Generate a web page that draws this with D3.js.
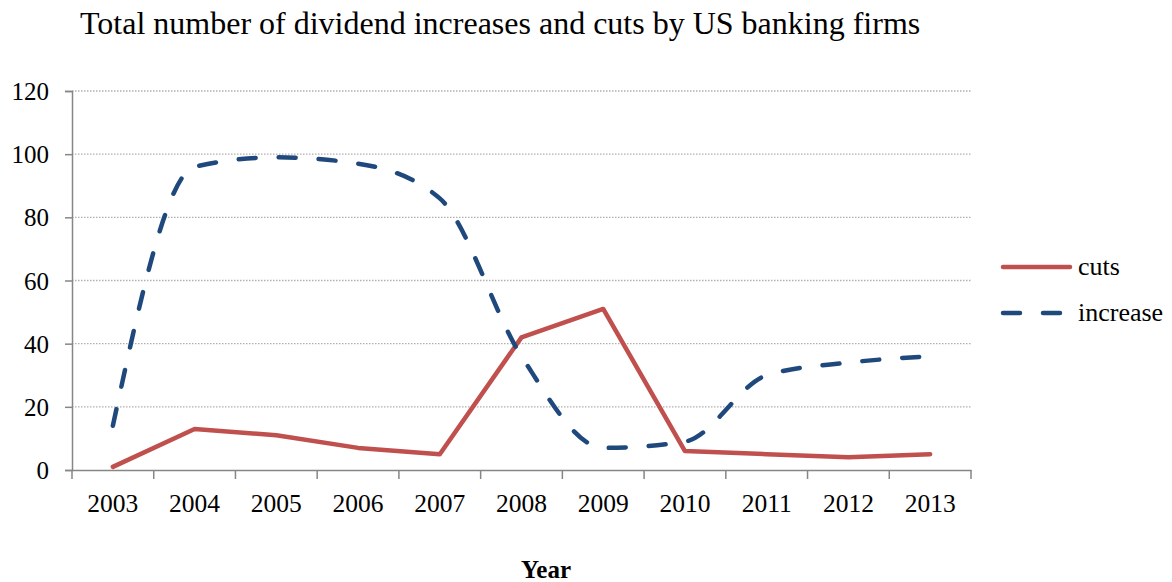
<!DOCTYPE html>
<html><head><meta charset="utf-8">
<script src="https://cdn.jsdelivr.net/npm/d3@7"></script>
<style>
body{margin:0;background:#fff;}
svg text{font-family:"Liberation Serif","Times New Roman","DejaVu Serif",serif !important;fill:#000;}
</style></head>
<body><svg id="chart" width="1172" height="582"></svg>
<script>
const years = ["2003","2004","2005","2006","2007","2008","2009","2010","2011","2012","2013"];
const cuts = [1,13,11,7,5,42,51,6,5,4,5];
const increase = [14,96,99,97,86,36,7,9,30,34,36];
const yTicks = [0,20,40,60,80,100,120];
const seriesNames = ["cuts","increase"];

const FONT = "'Liberation Serif','Times New Roman',serif";
const svg = d3.select("#chart");
const pLeft = 72, pRight = 971, pTop = 91, pBottom = 470;
const x = d3.scaleBand().domain(years).range([pLeft, pRight]).paddingInner(0).paddingOuter(0);
const y = d3.scaleLinear().domain([0,120]).range([pBottom, pTop]);
const cx = d => x(d) + x.bandwidth()/2;

// gridlines
svg.append("g").selectAll("line").data(yTicks.filter(v=>v>0)).join("line")
  .attr("x1", pLeft).attr("x2", pRight).attr("y1", d=>y(d)).attr("y2", d=>y(d))
  .attr("stroke","#b0b0b0").attr("stroke-width",1.3).attr("stroke-dasharray","1.5,1.5");

// y axis
const ya = svg.append("g").attr("transform",`translate(${pLeft},0)`)
  .call(d3.axisLeft(y).tickValues(yTicks).tickSize(7).tickPadding(16));
ya.attr("font-family", FONT);
ya.select(".domain").attr("stroke","#868686").attr("stroke-width",1.5);
ya.selectAll(".tick line").attr("stroke","#868686").attr("stroke-width",1.5);
ya.selectAll("text").attr("font-size",25).style("font-family",FONT).attr("fill","#000").attr("dy","0.34em");

// x axis
const xa = svg.append("g").attr("transform",`translate(0,${pBottom})`)
  .call(d3.axisBottom(x).tickSize(0).tickPadding(24));
xa.attr("font-family", FONT);
xa.select(".domain").attr("stroke","#868686").attr("stroke-width",1.5);
xa.selectAll("text").attr("font-size",25.5).style("font-family",FONT).attr("fill","#000");
const edges = years.map(d=>x(d)).concat([x(years[years.length-1])+x.bandwidth()]);
xa.append("g").selectAll("line").data(edges).join("line")
  .attr("x1",d=>d).attr("x2",d=>d).attr("y1",0).attr("y2",9)
  .attr("stroke","#868686").attr("stroke-width",1.5);

// lines
const lineStraight = d3.line().x((d,i)=>cx(years[i])).y(d=>y(d));
const lineSmooth = d3.line().x((d,i)=>cx(years[i])).y(d=>y(d)).curve(d3.curveMonotoneX);
svg.append("path").datum(cuts).attr("d",lineStraight).attr("fill","none")
  .attr("stroke","#C0504D").attr("stroke-width",4.5).attr("stroke-linejoin","round").attr("stroke-linecap","round");
svg.append("path").datum(increase).attr("d",lineSmooth).attr("fill","none")
  .attr("stroke","#1F497D").attr("stroke-width",4.5).attr("stroke-linecap","round")
  .attr("stroke-dasharray","17,23");

// legend
const leg = svg.append("g");
const lg = [[seriesNames[0],"#C0504D",null,267],[seriesNames[1],"#1F497D","17,23",313]];
lg.forEach(([name,col,dash,ly])=>{
  leg.append("line").attr("x1",1003).attr("x2",1070).attr("y1",ly).attr("y2",ly)
    .attr("stroke",col).attr("stroke-width",4.5).attr("stroke-linecap","round")
    .attr("stroke-dasharray",dash);
  leg.append("text").attr("x",1078).attr("y",ly).attr("dy","0.3em").attr("font-size",26)
    .style("font-family",FONT).text(name);
});

// title
svg.append("text").attr("x",80).attr("y",34).attr("font-size",32).style("font-family",FONT)
  .text("Total number of dividend increases and cuts by US banking firms");
// axis title
svg.append("text").attr("x",546).attr("y",578).attr("text-anchor","middle").style("font-family",FONT)
  .attr("font-size",25).attr("font-weight","bold").text("Year");
</script></body></html>
